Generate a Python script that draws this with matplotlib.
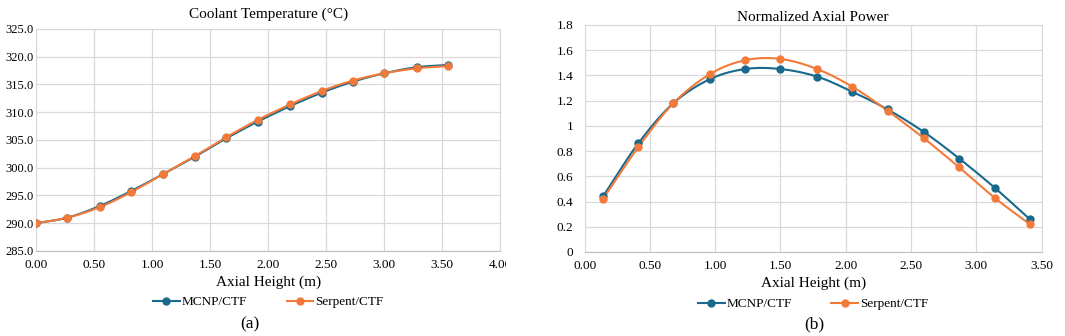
import numpy as np
import matplotlib
matplotlib.use('Agg')
from matplotlib import pyplot as plt
from matplotlib.transforms import Bbox, TransformedBbox

# Coolant temperature (panel a)
h_temp = [0.00, 0.27, 0.55, 0.82, 1.09, 1.37, 1.64, 1.91, 2.19, 2.46, 2.73, 3.00, 3.28, 3.55]
t_mcnp = [290.0, 291.0, 293.1, 295.8, 298.8, 302.0, 305.3, 308.3, 311.1, 313.5, 315.5, 317.0, 318.1, 318.5]
t_serp = [290.0, 291.0, 292.9, 295.6, 298.8, 302.1, 305.5, 308.6, 311.4, 313.8, 315.7, 317.0, 317.9, 318.3]

# Normalized axial power (panel b)
h_pow = [0.14, 0.41, 0.68, 0.96, 1.23, 1.50, 1.78, 2.05, 2.32, 2.60, 2.87, 3.14, 3.41]
p_mcnp = [0.44, 0.86, 1.18, 1.37, 1.45, 1.45, 1.39, 1.27, 1.13, 0.95, 0.74, 0.51, 0.26]
p_serp = [0.42, 0.83, 1.18, 1.41, 1.52, 1.53, 1.45, 1.31, 1.12, 0.90, 0.67, 0.43, 0.22]

BLUE = '#19698C'
ORANGE = '#F47A3A'
GRID = '#D9D9D9'

plt.rcParams['font.family'] = 'serif'
plt.rcParams['font.serif'] = ['Liberation Serif', 'DejaVu Serif']


def smooth(x, y, n=20):
    # Catmull-Rom style curve through the points (like Excel "smoothed line")
    x = np.asarray(x, float)
    y = np.asarray(y, float)
    px = np.concatenate([[2 * x[0] - x[1]], x, [2 * x[-1] - x[-2]]])
    py = np.concatenate([[2 * y[0] - y[1]], y, [2 * y[-1] - y[-2]]])
    xs, ys = [], []
    t = np.linspace(0, 1, n, endpoint=False)
    for i in range(1, len(px) - 2):
        for p, out in ((px, xs), (py, ys)):
            p0, p1, p2, p3 = p[i - 1], p[i], p[i + 1], p[i + 2]
            out.extend(0.5 * (2 * p1 + (-p0 + p2) * t
                              + (2 * p0 - 5 * p1 + 4 * p2 - p3) * t ** 2
                              + (-p0 + 3 * p1 - 3 * p2 + p3) * t ** 3))
    xs.append(x[-1])
    ys.append(y[-1])
    return xs, ys


def draw(ax, x, y, color, label):
    sx, sy = smooth(x, y)
    ax.plot(sx, sy, color=color, lw=1.5, zorder=3)
    ax.plot(x, y, 'o', color=color, ms=5, zorder=4)
    ax.plot([], [], '-o', color=color, lw=1.5, ms=5, label=label)


def style(ax):
    ax.grid(True, color=GRID, lw=0.9)
    ax.set_axisbelow(True)
    for s in ax.spines.values():
        s.set_color(GRID)
    ax.spines['bottom'].set_color('#BFBFBF')
    ax.tick_params(length=0, labelsize=9.5)
    ax.tick_params(axis='x', pad=6)
    ax.tick_params(axis='y', pad=2)
    ax.set_xlabel('Axial Height (m)', fontsize=11, labelpad=3)
    ax.legend(loc='upper center', bbox_to_anchor=(0.5, -0.15), ncol=2,
              frameon=False, fontsize=9.5, handlelength=2.0, columnspacing=3.0,
              handletextpad=0.15)


fig = plt.figure(figsize=(10.65, 3.36), dpi=100)

ax1 = fig.add_axes([0.0338, 0.253, 0.436, 0.661])
draw(ax1, h_temp, t_mcnp, BLUE, 'MCNP/CTF')
draw(ax1, h_temp, t_serp, ORANGE, 'Serpent/CTF')
ax1.set_xlim(0, 4)
ax1.set_ylim(285, 325)
ax1.set_xticks(np.arange(0, 4.01, 0.5))
ax1.set_xticklabels(['%.2f' % v for v in np.arange(0, 4.01, 0.5)])
ax1.set_yticks(np.arange(285, 325.1, 5))
ax1.set_yticklabels(['%.1f' % v for v in np.arange(285, 325.1, 5)])
ax1.set_title('Coolant Temperature (°C)', fontsize=11, pad=8)
style(ax1)
for lab in ax1.get_yticklabels():
    lab.set_fontsize(9)

ax2 = fig.add_axes([0.549, 0.250, 0.429, 0.676])
draw(ax2, h_pow, p_mcnp, BLUE, 'MCNP/CTF')
draw(ax2, h_pow, p_serp, ORANGE, 'Serpent/CTF')
ax2.set_xlim(0, 3.5)
ax2.set_ylim(0, 1.8)
ax2.set_xticks(np.arange(0, 3.51, 0.5))
ax2.set_xticklabels(['%.2f' % v for v in np.arange(0, 3.51, 0.5)])
ax2.set_yticks(np.arange(0, 1.81, 0.2))
ax2.set_yticklabels(['%g' % round(v, 1) for v in np.arange(0, 1.81, 0.2)])
ax2.set_title('Normalized Axial Power', fontsize=11, pad=3)
style(ax2)
ax2.tick_params(axis='y', pad=8)

fig.text(0.235, 0.035, '(a)', ha='center', va='center', fontsize=12.5)
fig.text(0.765, 0.035, '(b)', ha='center', va='center', fontsize=12.5)

# left panel's last tick label is cut off in the original
fig.canvas.draw()
clip = TransformedBbox(Bbox([[0, 0], [506 / 1065, 1]]), fig.transFigure)
for lab in ax1.get_xticklabels():
    lab.set_clip_on(True)
    lab.set_clip_box(clip)

fig.savefig('out.png', dpi=100)
